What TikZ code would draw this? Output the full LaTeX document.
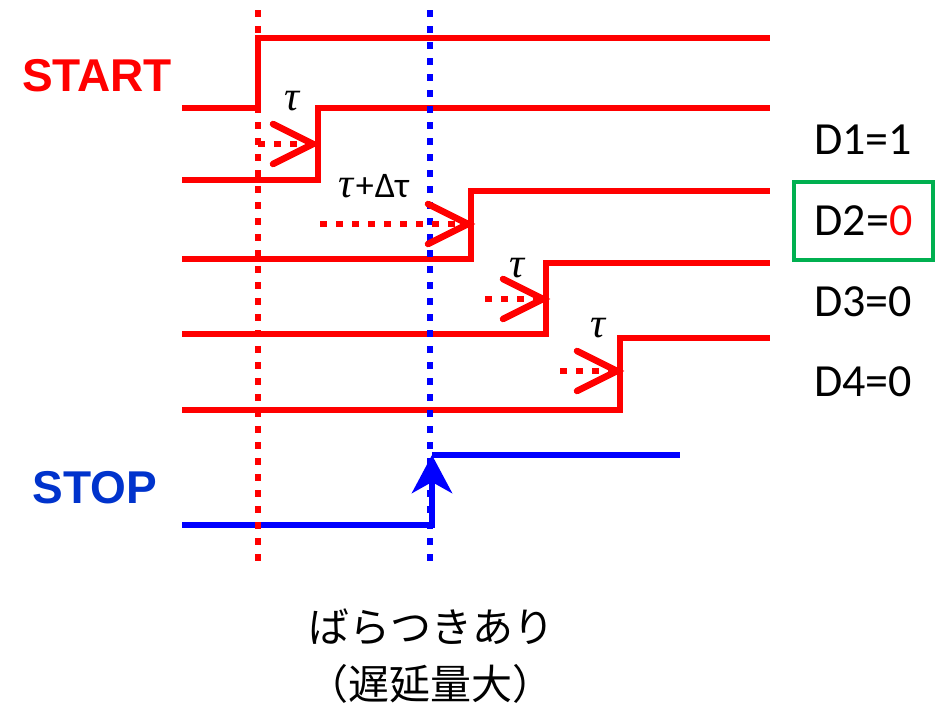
\documentclass[tikz,border=0pt]{standalone}
\usepackage{fontspec}
\setmainfont{Carlito}
\newfontfamily\arialfont{Liberation Sans}
\newfontfamily\taufont{Liberation Serif}
\newfontfamily\jpfont{Noto Sans CJK JP}
\usetikzlibrary{arrows.meta,positioning}
\definecolor{stopblue}{RGB}{0,51,204}
\definecolor{boxgreen}{RGB}{0,176,80}

\begin{document}
\begin{tikzpicture}[x=1pt,y=-1pt,every node/.style={inner sep=0pt,font=\fontsize{46}{52}\selectfont}]
\tikzstyle{sig}=[draw=red,line width=6.5pt]
\tikzstyle{stopsig}=[draw=blue,line width=6.5pt]
\tikzstyle{dots}=[line width=6pt,dash pattern=on 7pt off 9pt]
\tikzstyle{chev}=[draw=red,line width=6.5pt,line cap=round]
\tikzstyle{tau}=[font=\taufont\itshape\fontsize{42}{46}\selectfont]
\tikzstyle{big}=[font=\arialfont\bfseries\fontsize{46}{52}\selectfont]
\tikzstyle{jp}=[font=\jpfont\fontsize{41}{48}\selectfont]
\useasboundingbox (0,0) rectangle (938,704);

\draw[sig] (182,108) -- (258,108) -- (258,38) -- (770,38);
\draw[sig] (182,180) -- (318,180) -- (318,108) -- (770,108);
\draw[sig] (182,259) -- (471,259) -- (471,191) -- (770,191);
\draw[sig] (182,334) -- (546,334) -- (546,263) -- (770,263);
\draw[sig] (182,410) -- (620,410) -- (620,338) -- (770,338);
\draw[stopsig] (182,525) -- (432,525);
\draw[stopsig] (432,455) -- (680,455);

\draw[dots,red] (258,10) -- (258,562);
\draw[dots,blue] (430,10) -- (430,562);
\draw[stopsig,-{Stealth[length=38pt,width=40pt,inset=11pt]}] (432,528) -- (432,455);

\foreach \xs/\xe/\y in {258/313/144, 320/468/224, 485/543/299, 560/617/371} {
  \draw[dots,red] (\xs,\y) -- (\xe-4,\y);
  \draw[chev] (\xe-40,\y-20) -- (\xe,\y) -- (\xe-40,\y+20);
}

\node[tau] (t1) at (292,101) {τ};
\node[tau] (t2) at (374,186) {τ\kern2pt\normalfont\fontsize{36}{40}\selectfont+\kern1pt Δτ};
\node[tau] (t3) at (517,268) {τ};
\node[tau] (t4) at (598,328) {τ};

\node[big,text=red] (start) at (97,76) {START};
\node[big,text=stopblue] (stop) at (95,488) {STOP};

\node (d1) at (863,140) {D1=1};
\node[draw=boxgreen,line width=4.5pt,minimum width=139pt,minimum height=78pt] (d2) at (863.5,221) {D2=\textcolor{red}{0}};
\node (d3) at (863,302) {D3=0};
\node (d4) at (863,382) {D4=0};

\node[jp] (jp1) at (431,627) {ばらつきあり};
\node[jp] (jp2) at (430,684) {（遅延量大）};
\end{tikzpicture}
\end{document}
